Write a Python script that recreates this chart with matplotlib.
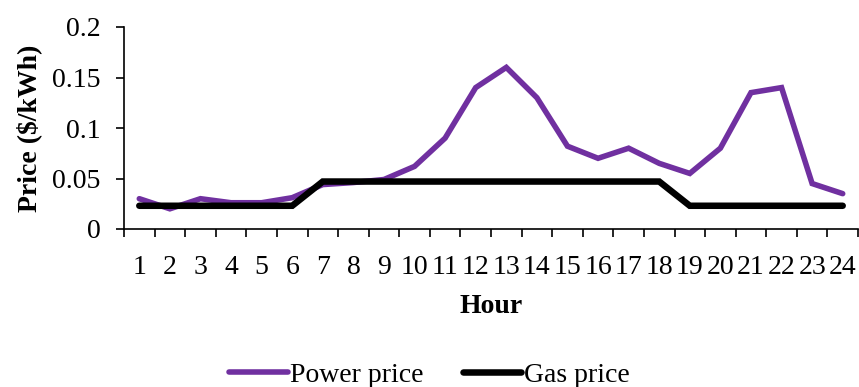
import matplotlib
matplotlib.use("Agg")
import matplotlib.pyplot as plt
from matplotlib.ticker import FixedLocator, FuncFormatter, NullFormatter

hours = list(range(1, 25))
power_price = [0.030, 0.020, 0.030, 0.026, 0.026, 0.031, 0.044, 0.046, 0.049, 0.062,
               0.090, 0.140, 0.160, 0.130, 0.082, 0.070, 0.080, 0.065, 0.055, 0.080,
               0.135, 0.140, 0.045, 0.035]
gas_price = [0.023] * 6 + [0.047] * 12 + [0.023] * 6
y_ticks = [0, 0.05, 0.1, 0.15, 0.2]
y_tick_labels = ["0", "0.05", "0.1", "0.15", "0.2"]

plt.rcParams["font.family"] = ["Liberation Serif", "DejaVu Serif"]
FS = 20

fig = plt.figure(figsize=(8.59, 3.87), dpi=100)
ax = fig.add_axes([124 / 859, 1 - 229 / 387, 734 / 859, 202 / 387])

ax.plot(hours, power_price, color="#7030A0", lw=4.0, solid_capstyle="round",
        solid_joinstyle="miter", label="Power price")
ax.plot(hours, gas_price, color="black", lw=4.7, solid_capstyle="round",
        solid_joinstyle="miter", label="Gas price")

ax.set_xlim(0.5, 24.5)
ax.set_ylim(0, 0.2)

# category boundaries carry the tick marks, category centres carry the labels
ax.xaxis.set_major_locator(FixedLocator([h - 0.5 for h in hours] + [24.5]))
ax.xaxis.set_major_formatter(NullFormatter())
ax.xaxis.set_minor_locator(FixedLocator(hours))
ax.xaxis.set_minor_formatter(FuncFormatter(lambda v, p: f"{int(round(v))}"))
ax.tick_params(axis="x", which="major", direction="out", length=6, width=1.2, color="black")
ax.tick_params(axis="x", which="minor", length=0, pad=19, labelsize=FS)

ax.set_yticks(y_ticks)
ax.set_yticklabels(y_tick_labels)
ax.tick_params(axis="y", direction="out", length=6, width=1.2, pad=11, labelsize=FS)

for side in ("top", "right"):
    ax.spines[side].set_visible(False)
for side in ("left", "bottom"):
    ax.spines[side].set_linewidth(1.2)
    ax.spines[side].set_color("black")

ax.set_xlabel("Hour", fontsize=FS, fontweight="bold", labelpad=10)
ax.set_ylabel("Price ($/kWh)", fontsize=FS, fontweight="bold", labelpad=7)

fig.legend(loc="center", bbox_to_anchor=(0.5, 1 - 375 / 387), ncol=2, frameon=False,
           fontsize=FS, handlelength=2.1, handletextpad=0.1, columnspacing=1.4)

fig.savefig("out.png", dpi=100)
